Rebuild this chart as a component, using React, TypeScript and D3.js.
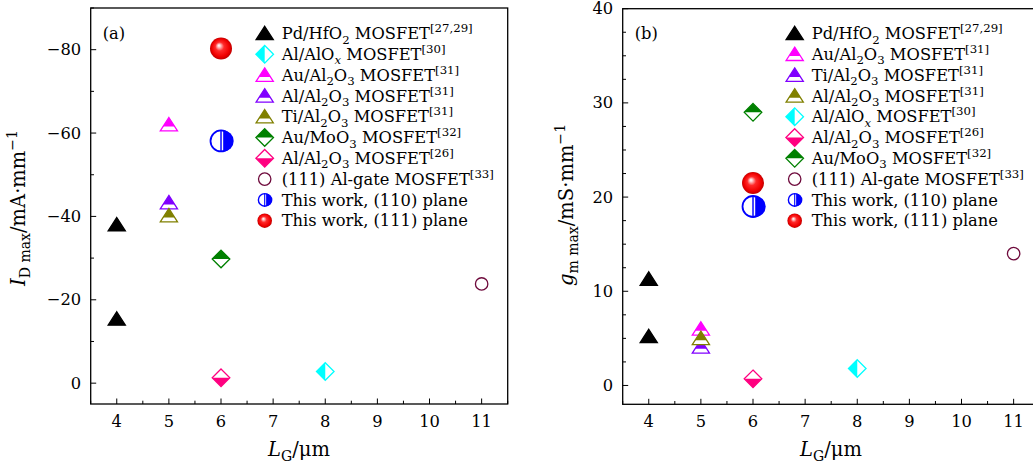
import React from 'react';
import * as d3 from 'd3';

const W = 1033;
const H = 466;

// ---- ticks ----
const xTickValues = [4, 5, 6, 7, 8, 9, 10, 11];
const yTickValuesA = [0, -20, -40, -60, -80];
const yTickValuesB = [0, 10, 20, 30, 40];

// ---- gate lengths (µm) ----
const lgPd = [4, 4];
const lgAlOx = [8];
const lgAu31 = [5];
const lgAl31 = [5];
const lgTi31 = [5];
const lgMoO3 = [6];
const lgAl26 = [6];
const lgAlGate = [11];
const lgThis110 = [6];
const lgThis111 = [6];

// ---- (a) I_D max (mA/mm) ----
const idPd = [-38, -15.4];
const idAlOx = [-2.8];
const idAu31 = [-62];
const idAl31 = [-43.3];
const idTi31 = [-40.2];
const idMoO3 = [-29.8];
const idAl26 = [-1.3];
const idAlGate = [-23.8];
const idThis110 = [-58.1];
const idThis111 = [-80.3];

// ---- (b) g_m max (mS/mm) ----
const gmPd = [11.3, 5.2];
const gmAu31 = [6.0];
const gmTi31 = [4.1];
const gmAl31 = [5.0];
const gmAlOx = [1.8];
const gmAl26 = [0.7];
const gmMoO3 = [29];
const gmAlGate = [14];
const gmThis110 = [19];
const gmThis111 = [21.5];

type Seg = { t: string; s?: 'sub' | 'sup'; i?: boolean };
type Kind = 'triFill' | 'triTop' | 'diaLeft' | 'diaTop' | 'diaBottom' | 'circleOpen' | 'circleHalf' | 'ball';

interface Series {
  label: Seg[];
  kind: Kind;
  color: string;
  x: number[];
  y: number[];
}

const L_PdHfO2: Seg[] = [{ t: 'Pd/HfO' }, { t: '2', s: 'sub' }, { t: ' MOSFET' }, { t: '[27,29]', s: 'sup' }];
const L_AlAlOx: Seg[] = [{ t: 'Al/AlO' }, { t: 'x', s: 'sub', i: true }, { t: ' MOSFET' }, { t: '[30]', s: 'sup' }];
const al2o3 = (m: string, ref: string): Seg[] => [
  { t: m + '/Al' }, { t: '2', s: 'sub' }, { t: 'O' }, { t: '3', s: 'sub' }, { t: ' MOSFET' }, { t: ref, s: 'sup' },
];
const L_AuMoO3: Seg[] = [{ t: 'Au/MoO' }, { t: '3', s: 'sub' }, { t: ' MOSFET' }, { t: '[32]', s: 'sup' }];
const L_AlGate: Seg[] = [{ t: '(111) Al-gate MOSFET' }, { t: '[33]', s: 'sup' }];
const L_110: Seg[] = [{ t: 'This work, (110) plane' }];
const L_111: Seg[] = [{ t: 'This work, (111) plane' }];

const C_BLACK = '#000000';
const C_CYAN = '#00ffff';
const C_MAGENTA = '#ff00ff';
const C_PURPLE = '#8000ff';
const C_OLIVE = '#808000';
const C_GREEN = '#008000';
const C_PINK = '#ff0080';
const C_MAROON = '#6e0a3c';
const C_BLUE = '#0000ff';
const C_RED = '#ff0000';

const seriesA: Series[] = [
  { label: L_PdHfO2, kind: 'triFill', color: C_BLACK, x: lgPd, y: idPd },
  { label: L_AlAlOx, kind: 'diaLeft', color: C_CYAN, x: lgAlOx, y: idAlOx },
  { label: al2o3('Au', '[31]'), kind: 'triTop', color: C_MAGENTA, x: lgAu31, y: idAu31 },
  { label: al2o3('Al', '[31]'), kind: 'triTop', color: C_PURPLE, x: lgAl31, y: idAl31 },
  { label: al2o3('Ti', '[31]'), kind: 'triTop', color: C_OLIVE, x: lgTi31, y: idTi31 },
  { label: L_AuMoO3, kind: 'diaTop', color: C_GREEN, x: lgMoO3, y: idMoO3 },
  { label: al2o3('Al', '[26]'), kind: 'diaBottom', color: C_PINK, x: lgAl26, y: idAl26 },
  { label: L_AlGate, kind: 'circleOpen', color: C_MAROON, x: lgAlGate, y: idAlGate },
  { label: L_110, kind: 'circleHalf', color: C_BLUE, x: lgThis110, y: idThis110 },
  { label: L_111, kind: 'ball', color: C_RED, x: lgThis111, y: idThis111 },
];

const seriesB: Series[] = [
  { label: L_PdHfO2, kind: 'triFill', color: C_BLACK, x: lgPd, y: gmPd },
  { label: al2o3('Au', '[31]'), kind: 'triTop', color: C_MAGENTA, x: lgAu31, y: gmAu31 },
  { label: al2o3('Ti', '[31]'), kind: 'triTop', color: C_PURPLE, x: lgTi31, y: gmTi31 },
  { label: al2o3('Al', '[31]'), kind: 'triTop', color: C_OLIVE, x: lgAl31, y: gmAl31 },
  { label: L_AlAlOx, kind: 'diaLeft', color: C_CYAN, x: lgAlOx, y: gmAlOx },
  { label: al2o3('Al', '[26]'), kind: 'diaBottom', color: C_PINK, x: lgAl26, y: gmAl26 },
  { label: L_AuMoO3, kind: 'diaTop', color: C_GREEN, x: lgMoO3, y: gmMoO3 },
  { label: L_AlGate, kind: 'circleOpen', color: C_MAROON, x: lgAlGate, y: gmAlGate },
  { label: L_110, kind: 'circleHalf', color: C_BLUE, x: lgThis110, y: gmThis110 },
  { label: L_111, kind: 'ball', color: C_RED, x: lgThis111, y: gmThis111 },
];

const FONT = '"DejaVu Serif", serif';
const FS = 16.3;
const FS_AXIS = 19.5;

const RichText: React.FC<{ segs: Seg[]; x: number; y: number; size: number; anchor?: string; transform?: string }> = ({
  segs, x, y, size, anchor = 'start', transform,
}) => {
  let cur = 0;
  const spans = segs.map((sg, k) => {
    const target = sg.s === 'sub' ? size * 0.28 : sg.s === 'sup' ? -size * 0.42 : 0;
    const dy = target - cur;
    cur = target;
    return (
      <tspan key={k} dy={dy} fontSize={sg.s ? size * 0.72 : size} fontStyle={sg.i ? 'italic' : 'normal'}>
        {sg.t}
      </tspan>
    );
  });
  return (
    <text x={x} y={y} fontFamily={FONT} fontSize={size} textAnchor={anchor} transform={transform} style={{ whiteSpace: 'pre' }} fill="#000">
      {spans}
    </text>
  );
};

const TRI = 'M0,-7.2 L8.6,6.2 L-8.6,6.2 Z';
const DIA = 'M0,-8.8 L8.8,0 L0,8.8 L-8.8,0 Z';

const Marker: React.FC<{ kind: Kind; color: string; cx: number; cy: number; big?: boolean }> = ({ kind, color, cx, cy, big }) => {
  const sw = 1.3;
  let content: React.ReactNode = null;
  if (kind === 'triFill') {
    content = <path d={TRI} fill={color} stroke={color} strokeWidth={sw} />;
  } else if (kind === 'triTop') {
    content = (
      <>
        <path d={TRI} fill="#fff" />
        <path d={TRI} fill={color} clipPath="url(#clipTri)" />
        <path d={TRI} fill="none" stroke={color} strokeWidth={sw} />
      </>
    );
  } else if (kind === 'diaLeft' || kind === 'diaTop' || kind === 'diaBottom') {
    const clip = kind === 'diaLeft' ? 'clipLeft' : kind === 'diaTop' ? 'clipTop' : 'clipBottom';
    content = (
      <>
        <path d={DIA} fill="#fff" />
        <path d={DIA} fill={color} clipPath={`url(#${clip})`} />
        <path d={DIA} fill="none" stroke={color} strokeWidth={sw} />
      </>
    );
  } else if (kind === 'circleOpen') {
    content = <circle r={6.2} fill="#fff" stroke={color} strokeWidth={sw} />;
  } else if (kind === 'circleHalf') {
    const r = big ? 10.5 : 6.3;
    const w = big ? 1.8 : 1.4;
    const gap = big ? 2.2 : 1.4;
    content = (
      <>
        <circle r={r} fill="#fff" />
        <path d={`M${gap},${-r} A${r},${r} 0 0 1 ${gap},${r} Z`} fill={color} clipPath="url(#clipRight)" />
        <line x1={0} x2={0} y1={-r} y2={r} stroke={color} strokeWidth={w * 0.8} />
        <circle r={r} fill="none" stroke={color} strokeWidth={w} />
      </>
    );
  } else if (kind === 'ball') {
    const r = big ? 11 : 7.3;
    content = <circle r={r} fill="url(#ballGrad)" />;
  }
  return <g transform={`translate(${cx},${cy})`}>{content}</g>;
};

interface PanelProps {
  left: number;
  right: number;
  top: number;
  bottom: number;
  yDomain: [number, number];
  yTicks: number[];
  yMinorStep: number;
  series: Series[];
  panelLabel: string;
  yLabel: Seg[];
  yLabelX: number;
  yLabelY: number;
  xLabelX: number;
  legendX: number;
  clipId: string;
}

const Panel: React.FC<PanelProps> = (p) => {
  const x = d3.scaleLinear().domain([3.5, 11.5]).range([p.left, p.right]);
  const y = d3.scaleLinear().domain(p.yDomain).range([p.bottom, p.top]);
  const xMinor = d3.range(3.5, 11.51, 0.5).filter((v) => !xTickValues.includes(v));
  const [y0, y1] = p.yDomain;
  const lo = Math.min(y0, y1);
  const hi = Math.max(y0, y1);
  const yMinor = d3
    .range(Math.ceil(lo / p.yMinorStep) * p.yMinorStep, hi + 1e-6, p.yMinorStep)
    .filter((v) => !p.yTicks.some((t) => Math.abs(t - v) < 1e-6));
  const fmt = (v: number) => (v < 0 ? '\u2212' + Math.abs(v) : String(v));
  const legendRows = p.series.map((_, i) => 33.5 + i * 20.8);
  return (
    <g>
      <g clipPath={`url(#${p.clipId})`}>
        {p.series.map((s, si) =>
          s.x.map((xv, k) => (
            <Marker key={`${si}-${k}`} kind={s.kind} color={s.color} cx={x(xv)} cy={y(s.y[k])} big />
          )),
        )}
      </g>
      <rect x={p.left} y={p.top} width={p.right - p.left} height={p.bottom - p.top} fill="none" stroke="#000" strokeWidth={1.3} />
      {xTickValues.map((v) => (
        <g key={`xt${v}`}>
          <line x1={x(v)} x2={x(v)} y1={p.bottom} y2={p.bottom - 5.5} stroke="#000" strokeWidth={1} />
          <text x={x(v)} y={427} fontFamily={FONT} fontSize={FS} textAnchor="middle">{v}</text>
        </g>
      ))}
      {xMinor.map((v) => (
        <line key={`xm${v}`} x1={x(v)} x2={x(v)} y1={p.bottom} y2={p.bottom - 3.3} stroke="#000" strokeWidth={1} />
      ))}
      {p.yTicks.map((v) => (
        <g key={`yt${v}`}>
          <line x1={p.left} x2={p.left + 5.5} y1={y(v)} y2={y(v)} stroke="#000" strokeWidth={1} />
          <text x={p.left - 9.5} y={y(v) + 5.6} fontFamily={FONT} fontSize={FS} textAnchor="end">{fmt(v)}</text>
        </g>
      ))}
      {yMinor.map((v) => (
        <line key={`ym${v}`} x1={p.left} x2={p.left + 3.3} y1={y(v)} y2={y(v)} stroke="#000" strokeWidth={1} />
      ))}
      <text x={p.left + 12} y={38.5} fontFamily={FONT} fontSize={FS}>{p.panelLabel}</text>
      {p.series.map((s, i) => (
        <g key={`lg${i}`}>
          <Marker kind={s.kind} color={s.color} cx={p.left + p.legendX} cy={legendRows[i]} />
          <RichText segs={s.label} x={p.left + p.legendX + 17} y={legendRows[i] + 5.6} size={FS} />
        </g>
      ))}
      <RichText
        segs={[{ t: 'L', i: true }, { t: 'G', s: 'sub' }, { t: '/\u03bcm' }]}
        x={p.xLabelX}
        y={456}
        size={FS_AXIS}
        anchor="middle"
      />
      <RichText
        segs={p.yLabel}
        x={0}
        y={0}
        size={FS_AXIS}
        anchor="middle"
        transform={`translate(${p.yLabelX},${p.yLabelY}) rotate(-90)`}
      />
    </g>
  );
};

export default function App() {
  const leftA = 90.7;
  const rightA = 507.7;
  const leftB = 622.7;
  const rightB = 1039.7;
  return (
    <svg width={W} height={H} viewBox={`0 0 ${W} ${H}`} style={{ position: 'absolute', left: 0, top: 0, background: '#fff' }}>
      <defs>
        <clipPath id="clipTri" clipPathUnits="userSpaceOnUse">
          <rect x={-30} y={-30} width={60} height={31.8} />
        </clipPath>
        <clipPath id="clipTop" clipPathUnits="userSpaceOnUse">
          <rect x={-30} y={-30} width={60} height={30} />
        </clipPath>
        <clipPath id="clipBottom" clipPathUnits="userSpaceOnUse">
          <rect x={-30} y={0} width={60} height={30} />
        </clipPath>
        <clipPath id="clipLeft" clipPathUnits="userSpaceOnUse">
          <rect x={-30} y={-30} width={30} height={60} />
        </clipPath>
        <clipPath id="clipRight" clipPathUnits="userSpaceOnUse">
          <rect x={0} y={-30} width={30} height={60} />
        </clipPath>
        <clipPath id="plotA">
          <rect x={leftA} y={8} width={rightA - leftA} height={396} />
        </clipPath>
        <clipPath id="plotB">
          <rect x={leftB} y={8.7} width={rightB - leftB} height={395.6} />
        </clipPath>
        <radialGradient id="ballGrad" cx="0.5" cy="0.5" r="0.5" fx="0.4" fy="0.36">
          <stop offset="0" stopColor="#ffffff" />
          <stop offset="0.12" stopColor="#ffd0d0" />
          <stop offset="0.4" stopColor="#ff2a2a" />
          <stop offset="0.8" stopColor="#f00000" />
          <stop offset="1" stopColor="#c00000" />
        </radialGradient>
      </defs>
      <rect x={0} y={0} width={W} height={H} fill="#fff" />
      <Panel
        left={leftA}
        right={rightA}
        top={8}
        bottom={404}
        yDomain={[5, -90]}
        yTicks={yTickValuesA}
        yMinorStep={10}
        series={seriesA}
        panelLabel="(a)"
        yLabel={[{ t: 'I', i: true }, { t: 'D max', s: 'sub' }, { t: '/mA\u00b7mm' }, { t: '\u22121', s: 'sup' }]}
        yLabelX={25}
        yLabelY={208}
        xLabelX={299}
        legendX={174}
        clipId="plotA"
      />
      <Panel
        left={leftB}
        right={rightB}
        top={8.7}
        bottom={404.3}
        yDomain={[-2, 40]}
        yTicks={yTickValuesB}
        yMinorStep={2.5}
        series={seriesB}
        panelLabel="(b)"
        yLabel={[{ t: 'g', i: true }, { t: 'm max', s: 'sub' }, { t: '/mS\u00b7mm' }, { t: '\u22121', s: 'sup' }]}
        yLabelX={573}
        yLabelY={205}
        xLabelX={831}
        legendX={172}
        clipId="plotB"
      />
    </svg>
  );
}
